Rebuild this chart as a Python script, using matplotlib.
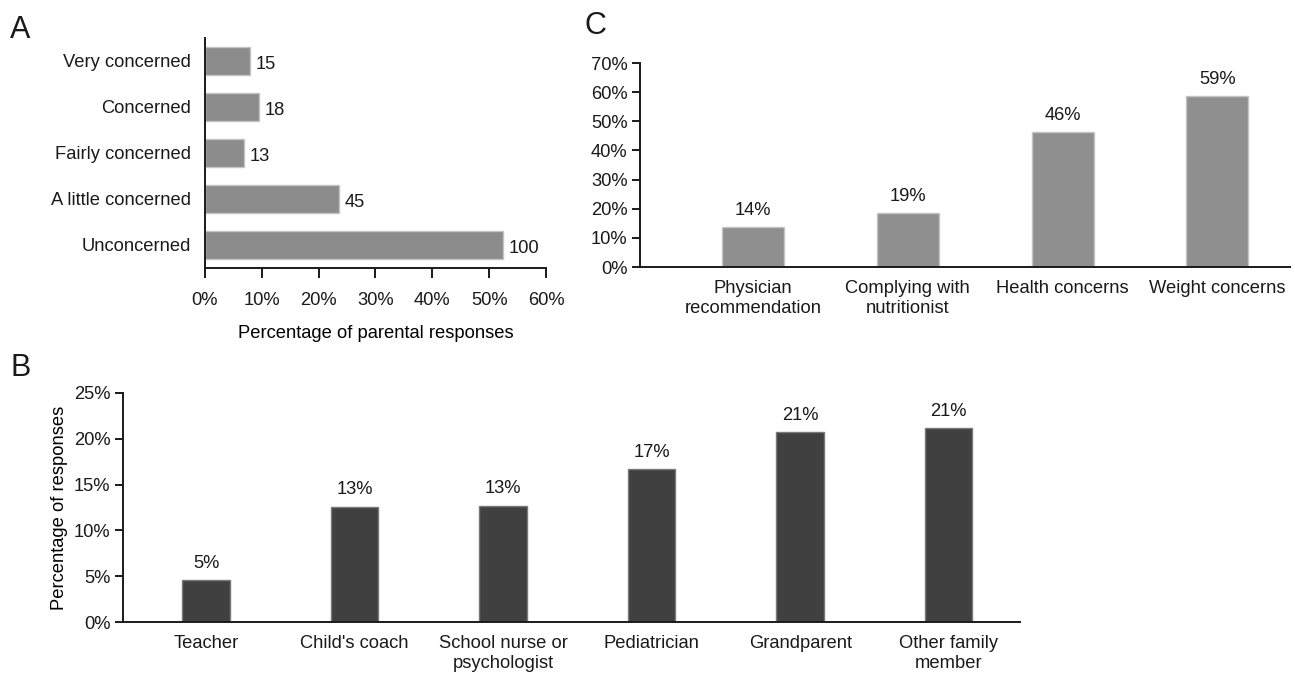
import matplotlib.pyplot as plt
import numpy as np
from matplotlib.ticker import FuncFormatter

plt.rcParams['font.family'] = ['Liberation Sans', 'DejaVu Sans']
plt.rcParams['font.size'] = 13.2
plt.rcParams['text.color'] = '#1a1a1a'
plt.rcParams['xtick.color'] = '#1a1a1a'
plt.rcParams['ytick.color'] = '#1a1a1a'

# A: level of parental concern (counts)
concern_levels = ['Unconcerned', 'A little concerned', 'Fairly concerned',
                  'Concerned', 'Very concerned']
concern_counts = [100, 45, 13, 18, 15]

# B: who else talks about the child's weight (% of responses)
sources = ['Teacher', "Child's coach", 'School nurse or\npsychologist',
           'Pediatrician', 'Grandparent', 'Other family\nmember']
source_pct = [4.6, 12.6, 12.7, 16.7, 20.7, 21.2]

# C: reasons given (% of responses)
reasons = ['Physician\nrecommendation', 'Complying with\nnutritionist',
           'Health concerns', 'Weight concerns']
reason_pct = [13.6, 18.6, 46.2, 58.6]

pct_fmt = FuncFormatter(lambda v, _: '%d%%' % round(v))
spine_col = '#1a1a1a'


def tidy(ax):
    for s in ('top', 'right'):
        ax.spines[s].set_visible(False)
    for s in ('left', 'bottom'):
        ax.spines[s].set_color(spine_col)
        ax.spines[s].set_linewidth(1.4)


fig = plt.figure(figsize=(12.95, 6.75), dpi=100)

# ---- panel A ----
axA = fig.add_axes([0.1583, 0.603, 0.2633, 0.3407])
tidy(axA)
total = sum(concern_counts)
pctA = [c / total * 100 for c in concern_counts]
ypos = np.arange(len(concern_levels))
axA.barh(ypos, pctA, height=0.61, color='#8c8c8c', edgecolor='#c4c4c4',
         linewidth=1.0)
for y, p, c in zip(ypos, pctA, concern_counts):
    axA.text(p + 1.0, y - 0.08, str(c), va='center', ha='left')
axA.set_xlim(0, 60)
axA.set_ylim(-0.5, 4.5)
axA.set_xticks(np.arange(0, 61, 10))
axA.xaxis.set_major_formatter(pct_fmt)
axA.set_yticks(ypos)
axA.set_yticklabels(concern_levels)
axA.tick_params(axis='y', length=0, pad=10)
axA.tick_params(axis='x', direction='out', length=7, width=1.4, pad=10,
                color=spine_col)
axA.set_xlabel('Percentage of parental responses', labelpad=12)

# ---- panel C ----
axC = fig.add_axes([0.4942, 0.6044, 0.502, 0.3022])
tidy(axC)
xc = np.arange(len(reasons))
axC.bar(xc, reason_pct, width=0.4, color='#8f8f8f', edgecolor='#c4c4c4',
        linewidth=1.0)
for x, v in zip(xc, reason_pct):
    axC.text(x, v + 2.8, '%d%%' % round(v), ha='center', va='bottom')
axC.set_ylim(0, 70)
axC.set_xlim(-0.73, 3.47)
axC.set_yticks(np.arange(0, 71, 10))
axC.yaxis.set_major_formatter(pct_fmt)
axC.set_xticks(xc)
axC.set_xticklabels(reasons, linespacing=1.3)
axC.tick_params(axis='x', length=0, pad=9)
axC.tick_params(axis='y', direction='out', length=6, width=1.4, pad=3,
                color=spine_col)

# ---- panel B ----
axB = fig.add_axes([0.095, 0.0785, 0.6926, 0.3393])
tidy(axB)
xb = np.arange(len(sources))
axB.bar(xb, source_pct, width=0.32, color='#404040', edgecolor='#7a7a7a',
        linewidth=1.0)
for x, v in zip(xb, source_pct):
    axB.text(x, v + 0.9, '%d%%' % round(v), ha='center', va='bottom')
axB.set_ylim(0, 25)
axB.set_xlim(-0.56, 5.48)
axB.set_yticks(np.arange(0, 26, 5))
axB.yaxis.set_major_formatter(pct_fmt)
axB.set_xticks(xb)
axB.set_xticklabels(sources, linespacing=1.3)
axB.tick_params(axis='x', length=0, pad=9)
axB.tick_params(axis='y', direction='out', length=6, width=1.4, pad=3,
                color=spine_col)
axB.set_ylabel('Percentage of responses', labelpad=4)

# panel letters
fig.text(0.008, 0.955, 'A', fontsize=22, va='center', ha='left')
fig.text(0.008, 0.455, 'B', fontsize=22, va='center', ha='left')
fig.text(0.451, 0.962, 'C', fontsize=22, va='center', ha='left')

fig.savefig('out.png', dpi=100)
